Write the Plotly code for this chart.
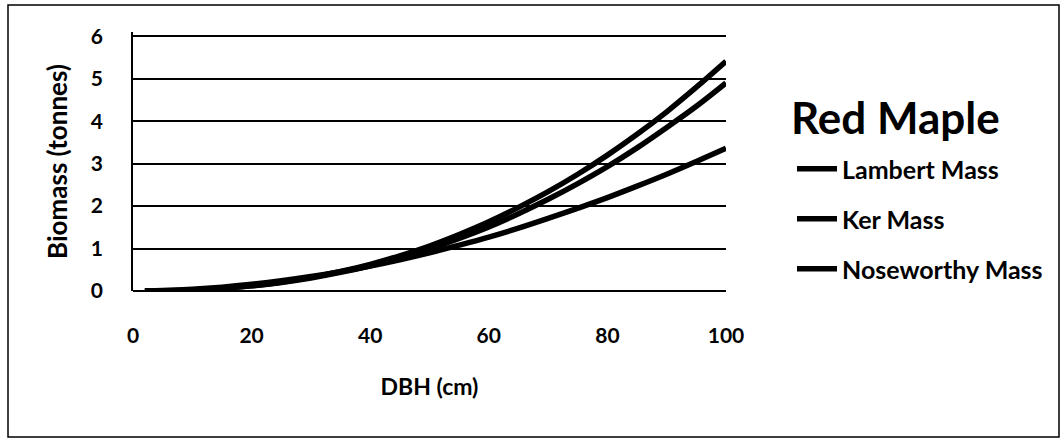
import plotly.graph_objects as go

dbh = [2, 5, 10, 15, 20, 25, 30, 35, 40, 45, 50, 55, 60, 65, 70, 75, 80, 85, 90, 95, 100]
lambert_mass = [0.001, 0.005, 0.024, 0.063, 0.123, 0.208, 0.32, 0.459, 0.628, 0.83, 1.06,
                1.33, 1.63, 1.97, 2.34, 2.75, 3.20, 3.69, 4.22, 4.80, 5.41]
ker_mass = [0.001, 0.005, 0.025, 0.062, 0.121, 0.202, 0.307, 0.438, 0.595, 0.78, 0.995,
            1.24, 1.51, 1.82, 2.16, 2.53, 2.93, 3.37, 3.85, 4.35, 4.90]
noseworthy_mass = [0.002, 0.011, 0.042, 0.091, 0.158, 0.241, 0.341, 0.457, 0.589, 0.737, 0.90,
                   1.08, 1.27, 1.48, 1.71, 1.95, 2.20, 2.47, 2.75, 3.05, 3.36]
series_names = ["Lambert Mass", "Ker Mass", "Noseworthy Mass"]
x_ticks = [0, 20, 40, 60, 80, 100]
y_ticks = [0, 1, 2, 3, 4, 5, 6]
chart_title = "Red Maple"

FONT = "Lato"
fig = go.Figure()
for i, (name, ys) in enumerate(zip(series_names, [lambert_mass, ker_mass, noseworthy_mass])):
    fig.add_trace(go.Scatter(
        x=dbh, y=ys, mode="lines", name=name, legendgroup=f"g{i}",
        line=dict(color="black", width=5.5, shape="spline"),
    ))

# plot area in pixels: x 133..726, y ~32..291 (y range 0..6.1 so the 6 gridline is drawn)
L, R, T, B = 133, 726, 32, 291
W, H = 1062, 439
pw, ph = R - L, B - T

def px_to_paper_x(px):
    return (px - L) / pw

def px_to_paper_y(py):
    return (B - py) / ph

fig.update_layout(
    width=W, height=H,
    margin=dict(l=L, r=W - R, t=T, b=H - B, pad=0),
    paper_bgcolor="white", plot_bgcolor="white",
    font=dict(family=FONT, color="black"),
    showlegend=True,
    legend=dict(
        x=px_to_paper_x(792), y=px_to_paper_y(146), xanchor="left", yanchor="top",
        font=dict(size=25, family=FONT, color="black", weight="bold"),
        tracegroupgap=14.5, itemwidth=40, bgcolor="rgba(0,0,0,0)",
    ),
    annotations=[dict(
        text=f"<b>{chart_title}</b>", xref="paper", yref="paper",
        x=px_to_paper_x(789), y=px_to_paper_y(117), xanchor="left", yanchor="middle",
        showarrow=False, font=dict(size=44, family=FONT, color="black"),
    )],
    xaxis=dict(
        range=[0, 100], tickvals=x_ticks, ticktext=[str(v) for v in x_ticks],
        showgrid=False, zeroline=False, showline=False, ticks="",
        tickfont=dict(size=21, family=FONT, weight="bold"),
        ticklabelstandoff=30,
        title=dict(text="<b>DBH (cm)</b>", font=dict(size=23, family=FONT), standoff=32),
    ),
    yaxis=dict(
        range=[0, 6.1], tickvals=y_ticks, ticktext=[str(v) for v in y_ticks],
        showgrid=True, gridcolor="black", gridwidth=1.5,
        zeroline=True, zerolinecolor="black", zerolinewidth=1.5,
        showline=True, linecolor="black", linewidth=1.5, ticks="",
        tickfont=dict(size=21, family=FONT, weight="bold"),
        ticklabelstandoff=24,
        title=dict(text="<b>Biomass (tonnes)</b>", font=dict(size=26, family=FONT), standoff=16),
    ),
    shapes=[dict(
        type="rect", xref="paper", yref="paper",
        x0=px_to_paper_x(8), x1=px_to_paper_x(1059),
        y0=px_to_paper_y(437), y1=px_to_paper_y(5),
        line=dict(color="black", width=1.5), fillcolor="rgba(0,0,0,0)", layer="below",
    )],
)

fig.write_html("out.html")
